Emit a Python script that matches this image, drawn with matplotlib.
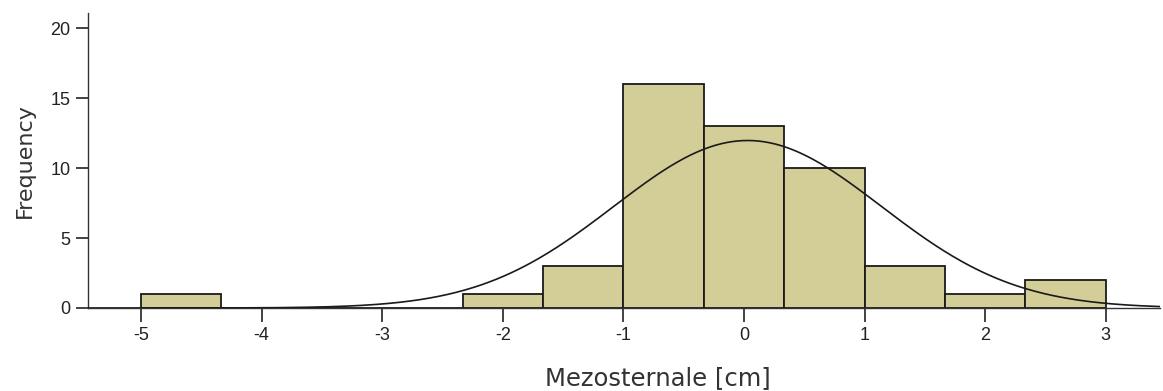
import numpy as np
import matplotlib
matplotlib.use("Agg")
import matplotlib.pyplot as plt

# Histogram data (bin edges in cm, counts)
bin_edges = [-5.0, -4.3333, -3.6667, -3.0, -2.3333, -1.6667, -1.0, -0.3333,
             0.3333, 1.0, 1.6667, 2.3333, 3.0]
counts = [1, 0, 0, 0, 1, 3, 16, 13, 10, 3, 1, 2]
n_total = 50
fit_mean = 0.03
fit_sd = 1.11
x_ticks = [-5, -4, -3, -2, -1, 0, 1, 2, 3]
y_ticks = [0, 5, 10, 15, 20]

plt.rcParams['font.family'] = ['Liberation Sans', 'DejaVu Sans']

fig = plt.figure(figsize=(11.63, 3.91), dpi=100)
ax = fig.add_axes([88/1163, 1-308/391, (1160-88)/1163, (308-13)/391])

edges = np.array(bin_edges)
widths = np.diff(edges)
ax.bar(edges[:-1], counts, width=widths, align='edge', color='#D3CE97',
       edgecolor='#1a1a1a', linewidth=1.3, zorder=2)

xlim = (-5.44, 3.45)
bw = widths.mean()
xs = np.linspace(xlim[0], xlim[1], 600)
ys = n_total * bw / (fit_sd * np.sqrt(2*np.pi)) * np.exp(-0.5*((xs-fit_mean)/fit_sd)**2)
ax.plot(xs, ys, color='#1a1a1a', linewidth=1.2, zorder=3)

ax.set_xlim(*xlim)
ax.set_ylim(0, 21.1)
ax.set_xticks(x_ticks)
ax.set_xticklabels([str(v) for v in x_ticks])
ax.set_yticks(y_ticks)
for s in ['top', 'right']:
    ax.spines[s].set_visible(False)
for s in ['left', 'bottom']:
    ax.spines[s].set_color('#333333')
    ax.spines[s].set_linewidth(1.0)
ax.tick_params(axis='both', labelsize=13, colors='#222222', length=10, width=1.2)
ax.tick_params(axis='y', length=9)

ax.set_xlabel('Mezosternale [cm]', fontsize=17.5, color='#333333', family='DejaVu Sans')
ax.set_ylabel('Frequency', fontsize=16, color='#333333', family='DejaVu Sans')
ax.xaxis.set_label_coords(0.532, -0.198)
ax.yaxis.set_label_coords(-0.050, 0.5)

fig.savefig('out.png', dpi=100)
